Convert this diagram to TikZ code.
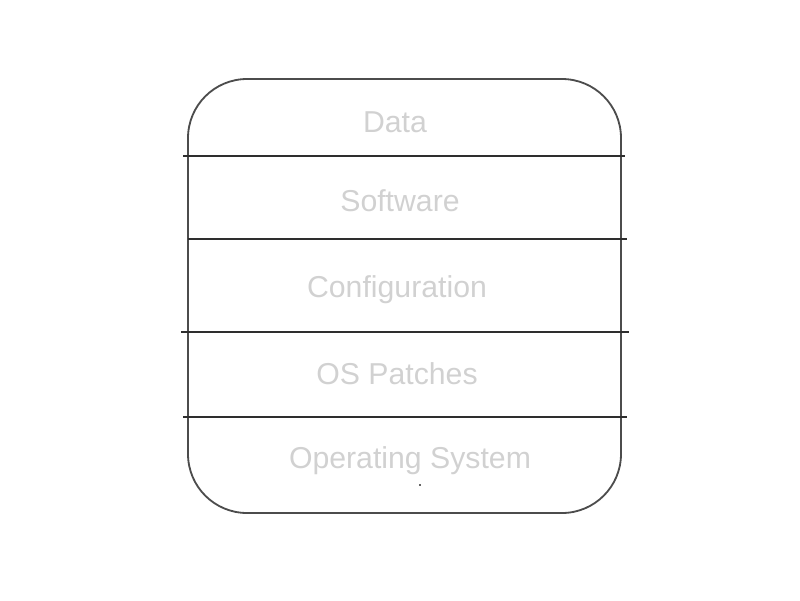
\documentclass[tikz,border=0pt]{standalone}
\usepackage{fontspec}
\setmainfont{Liberation Sans}
\tikzset{
 layertext/.style={text=black!18,font=\fontsize{21.5}{26}\selectfont,inner sep=0pt},
 divider/.style={line width=1.8pt,black!82}
}
\begin{document}
\begin{tikzpicture}[x=0.025cm,y=-0.025cm]
 \useasboundingbox (0,0) rectangle (800,600);
 \draw[line width=1.3pt,black!70,rounded corners=42pt] (188,79) rectangle (621,513);
 \draw[divider](183,156)--(625,156);
 \draw[divider](188,239)--(627,239);
 \draw[divider](181,332)--(629,332);
 \draw[divider,line width=1.3pt](183,417)--(627,417);
 \node[layertext] (data) at (395,122) {Data};
 \node[layertext] (software) at (400,201) {Software};
 \node[layertext] (config) at (397,290) {Configuration};
 \node[layertext] (patches) at (397,374) {OS Patches};
 \node[layertext] (os) at (410,461) {Operating System};
 \fill[black!60] (419,484) rectangle (421,486);
\end{tikzpicture}
\end{document}
